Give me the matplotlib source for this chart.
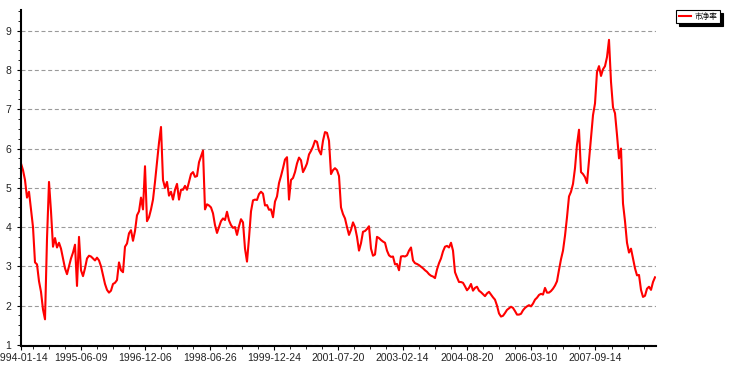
import numpy as np
import matplotlib.pyplot as plt
from matplotlib.ticker import FixedLocator, MultipleLocator

plt.rcParams['font.family'] = ['Liberation Sans', 'Noto Sans CJK SC', 'DejaVu Sans']

# weekly price-to-book readings (one value per ~2.5 weeks)
pb_1994_1996 = [5.62, 5.45, 5.2, 4.75, 4.9, 4.45, 4.0, 3.1, 3.05, 2.62,
                2.35, 1.9, 1.65, 3.7, 5.15, 4.4, 3.5, 3.72, 3.48, 3.6,
                3.45, 3.2, 2.95, 2.8, 3.0, 3.2, 3.35, 3.55, 2.5, 3.75,
                2.9, 2.75, 2.95, 3.2, 3.27, 3.25, 3.2, 3.15, 3.22, 3.15,
                3.0, 2.78, 2.55, 2.4, 2.33, 2.38, 2.55, 2.58, 2.65, 3.1,
                2.9]
pb_1996_1998 = [2.85, 3.5, 3.58, 3.84, 3.92, 3.65, 3.9, 4.3, 4.4, 4.75,
                4.45, 5.55, 4.15, 4.25, 4.45, 4.7, 5.15, 5.65, 6.15, 6.55,
                5.2, 5.0, 5.15, 4.8, 4.9, 4.7, 4.95, 5.1, 4.7, 4.95,
                4.95, 5.05, 4.95, 5.15, 5.35, 5.4, 5.28, 5.3, 5.65, 5.8,
                5.95, 4.45, 4.58, 4.55, 4.5, 4.35, 4.05, 3.85, 4.0, 4.15,
                4.22, 4.18]
pb_1998_2001 = [4.39, 4.17, 4.05, 3.98, 4.0, 3.8, 4.02, 4.2, 4.12, 3.45,
                3.12, 3.72, 4.4, 4.68, 4.7, 4.69, 4.84, 4.9, 4.85, 4.55,
                4.56, 4.44, 4.45, 4.25, 4.65, 4.78, 5.12, 5.3, 5.5, 5.72,
                5.78, 4.7, 5.2, 5.25, 5.4, 5.62, 5.77, 5.7, 5.4, 5.5,
                5.62, 5.85, 5.94, 6.05, 6.2, 6.17, 5.95, 5.85, 6.2, 6.42,
                6.4]
pb_2001_2004 = [6.2, 5.35, 5.45, 5.5, 5.45, 5.3, 4.5, 4.33, 4.22, 4.0,
                3.8, 3.93, 4.12, 4.0, 3.75, 3.4, 3.59, 3.88, 3.9, 3.95,
                4.02, 3.45, 3.27, 3.3, 3.75, 3.72, 3.67, 3.63, 3.6, 3.4,
                3.28, 3.24, 3.25, 3.05, 3.06, 2.9, 3.25, 3.26, 3.25, 3.28,
                3.4, 3.48, 3.15, 3.08, 3.06, 3.03, 2.99, 2.95, 2.9, 2.86,
                2.8, 2.76, 2.74]
pb_2004_2006 = [2.7, 2.92, 3.08, 3.2, 3.38, 3.5, 3.52, 3.48, 3.6, 3.4,
                2.85, 2.72, 2.6, 2.6, 2.58, 2.49, 2.39, 2.45, 2.55, 2.38,
                2.45, 2.48, 2.38, 2.34, 2.29, 2.24, 2.31, 2.35, 2.28, 2.21,
                2.15, 2.0, 1.8, 1.72, 1.74, 1.81, 1.89, 1.93, 1.97, 1.94,
                1.86, 1.77, 1.77, 1.79, 1.88, 1.94, 1.98, 2.01, 1.98, 2.05,
                2.15, 2.2]
pb_2006_2009 = [2.27, 2.3, 2.28, 2.45, 2.33, 2.33, 2.37, 2.43, 2.51, 2.62,
                2.91, 3.18, 3.4, 3.78, 4.25, 4.78, 4.9, 5.1, 5.5, 6.1,
                6.48, 5.4, 5.35, 5.27, 5.12, 5.7, 6.3, 6.85, 7.15, 7.95,
                8.1, 7.85, 8.02, 8.1, 8.33, 8.77, 7.7, 7.05, 6.9, 6.35,
                5.75, 6.0, 4.6, 4.15, 3.6, 3.35, 3.45, 3.2, 2.95, 2.77,
                2.78, 2.4, 2.22, 2.25, 2.43, 2.48, 2.4, 2.6, 2.72]

pb = pb_1994_1996 + pb_1996_1998 + pb_1998_2001 + pb_2001_2004 + pb_2004_2006 + pb_2006_2009

tick_labels = ['1994-01-14', '1995-06-09', '1996-12-06', '1998-06-26', '1999-12-24',
               '2001-07-20', '2003-02-14', '2004-08-20', '2006-03-10', '2007-09-14']
tick_idx = [0, 30, 62, 94.3, 126.5, 158.6, 190.8, 223, 255.1, 287.2]

x = np.arange(len(pb))

fig = plt.figure(figsize=(7.32, 3.69), dpi=100)
ax = fig.add_axes([21 / 732, 23 / 369, 635 / 732, 336 / 369])

line, = ax.plot(x, pb, color='#ff0000', lw=1.5, label='市净率')

ax.set_xlim(0, 317.5)
ax.set_ylim(0.97, 9.53)

ax.set_yticks(range(1, 10))
ax.yaxis.set_minor_locator(MultipleLocator(0.25))
ax.set_xticks(tick_idx)
ax.set_xticklabels(tick_labels)
ax.xaxis.set_minor_locator(FixedLocator(np.arange(5.84, 318, 8.04)))

ax.grid(axis='y', which='major', color='#9a9a9a', linestyle=(0, (3.6, 2.4)), linewidth=0.8)

for side in ['top', 'right']:
    ax.spines[side].set_visible(False)
for side in ['left', 'bottom']:
    ax.spines[side].set_color('black')
    ax.spines[side].set_linewidth(1.5)

ax.tick_params(axis='both', which='major', direction='out', length=3, width=0.8,
               labelsize=7.5, colors='black', labelcolor='#222222', pad=2)
ax.tick_params(axis='both', which='minor', direction='out', length=2, width=0.6, colors='black')
ax.tick_params(axis='y', which='major', pad=4)

leg = ax.legend(handles=[line], loc='upper left',
                bbox_to_anchor=(676 / 732, 1 - 10 / 369), bbox_transform=fig.transFigure,
                prop={'family': ['Noto Sans CJK SC', 'DejaVu Sans'], 'size': 5.5},
                frameon=True, fancybox=False, edgecolor='black', framealpha=1,
                borderpad=0.35, handlelength=1.6, handletextpad=0.5, borderaxespad=0,
                shadow={'color': 'black', 'alpha': 1})
leg.get_frame().set_linewidth(0.8)
for h in leg.get_lines():
    h.set_linewidth(1.5)

fig.savefig('out.png', dpi=100)
